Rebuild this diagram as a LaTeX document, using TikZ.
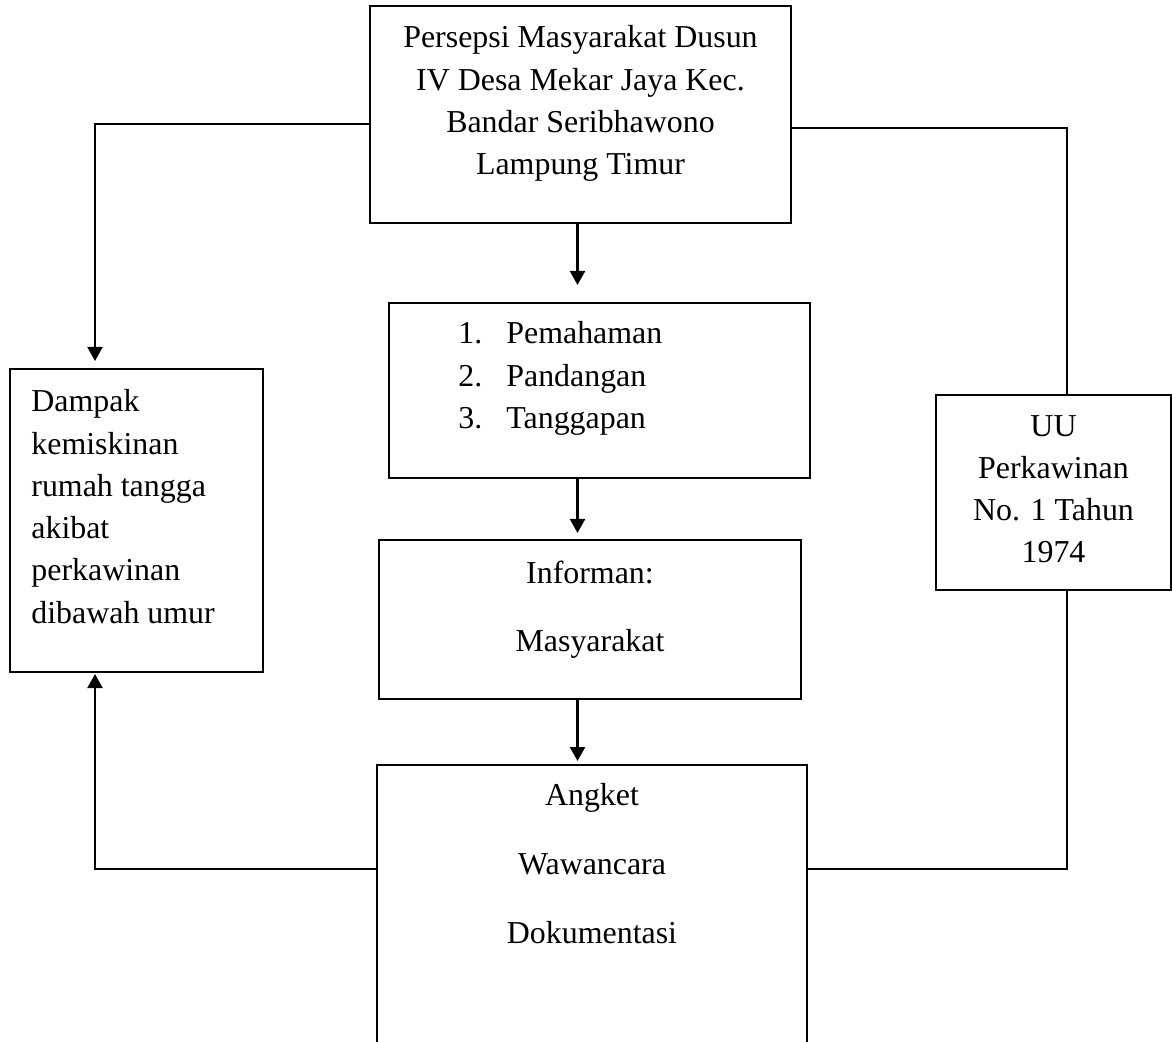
\documentclass[tikz,border=0pt]{standalone}
\usepackage{fontspec}
\setmainfont{Liberation Serif}
\usetikzlibrary{arrows.meta}
\definecolor{flowInk}{HTML}{000000}
\tikzset{
  every picture/.style={text=flowInk},
  flow box/.style={draw=flowInk, line width=1pt, rectangle,
    inner sep=0pt, outer sep=0pt},
  flow text/.style={font=\fontsize{15.95pt}{21.15pt}\selectfont,
    inner sep=0pt},
  flow arrow/.style={-{Triangle[length=7pt,width=7.5pt]},
    draw=flowInk, line width=1.15pt},
  flow link/.style={draw=flowInk, line width=0.9pt}
}

\begin{document}
\begin{tikzpicture}[x=0.5pt,y=-0.5pt]
  \useasboundingbox (0,0) rectangle (1172,1042);
  \clip (0,0) rectangle (1172,1042);
  \coordinate (spine) at (577.5,0);
  \coordinate (leftrail) at (95,0);
  \coordinate (rightrail) at (1067,0);
  % boxes
  \node[flow box, minimum width=210.5pt, minimum height=108.5pt] (persepsi) at (580.5,114.5) {};
  \node[flow box, minimum width=210.5pt, minimum height=87.5pt] (aspek) at (599.5,390.5) {};
  \node[flow box, minimum width=211pt, minimum height=79.5pt] (informan) at (590,619.5) {};
  \node[flow box, minimum width=215pt, minimum height=167pt] (metode) at (592,932) {};
  \node[flow box, minimum width=126.5pt, minimum height=151.5pt] (dampak) at (136.5,520.5) {};
  \node[flow box, minimum width=117.5pt, minimum height=97.5pt] (uu) at (1053.5,492.5) {};
  % texts
  \node[flow text, anchor=north, align=center] (persepsi text) at (580.5,25.2)
    {Persepsi Masyarakat Dusun\\IV Desa Mekar Jaya Kec.\\Bandar Seribhawono\\Lampung Timur};
  \node[flow text, anchor=north west, align=left] (aspek text) at (458,321.2)
    {\makebox[24pt][l]{1.}Pemahaman\\\makebox[24pt][l]{2.}Pandangan\\\makebox[24pt][l]{3.}Tanggapan};
  \node[flow text, anchor=north, align=center] (informan text) at (590,560.2)
    {Informan:\\[13pt]Masyarakat};
  \node[flow text, anchor=north, align=center] (metode text) at (592,783.2)
    {Angket\\[13.2pt]Wawancara\\[13.2pt]Dokumentasi};
  \node[flow text, anchor=north west, align=left] (dampak text) at (31,389.2)
    {Dampak\\kemiskinan\\rumah tangga\\akibat\\perkawinan\\dibawah umur};
  \node[flow text, anchor=north, align=center] (uu text) at (1053.5,414.8)
    {UU\\Perkawinan\\No. 1 Tahun\\1974};
  % connectors
  \draw[flow arrow, shorten >=9pt] (persepsi.south -| spine) -- (aspek.north -| spine);
  \draw[flow arrow, shorten >=3.5pt] (aspek.south -| spine) -- (informan.north -| spine);
  \draw[flow arrow, shorten >=2pt] (informan.south -| spine) -- (metode.north -| spine);
  \draw[flow arrow, line width=1pt, shorten >=4pt]
    ([yshift=-4.75pt]persepsi.west) -| (dampak.north -| leftrail);
  \draw[flow arrow, line width=1pt, shorten >=1pt]
    ([yshift=31.5pt]metode.west) -| (dampak.south -| leftrail);
  \draw[flow link] ([yshift=-6.75pt]persepsi.east) -| (uu.north -| rightrail);
  \draw[flow link] ([yshift=31.5pt]metode.east) -| (uu.south -| rightrail);
\end{tikzpicture}
\end{document}
